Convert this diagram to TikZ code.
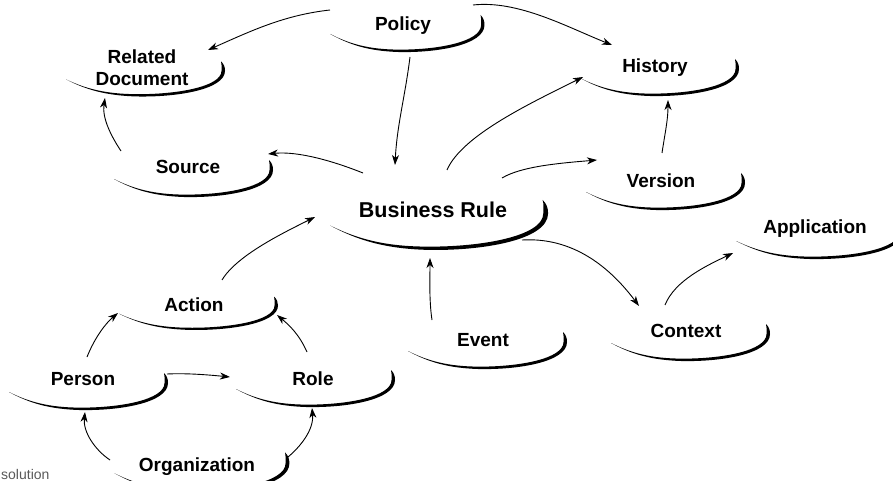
\documentclass[tikz,border=0pt]{standalone}
\usepackage{fontspec}
\setmainfont{Liberation Sans}
\usetikzlibrary{arrows.meta,calc}
\tikzset{
 lbl/.style={font=\fontsize{19}{22}\selectfont\bfseries, inner sep=0pt, text height=14pt, text depth=0pt},
 arr/.style={line width=0.9pt, -{Stealth[length=10pt,width=7pt,inset=3pt]}},
}
\newcommand\swoosh[4]{%
 \begin{scope}[shift={(#1.center)}, shift={(#2)}, xscale=#3, yscale=#4]
 \fill (-75,13) .. controls (-55,24) and (-35,30) .. (-5,31)
   .. controls (35,32) and (84,24) .. (84,4)
   .. controls (84,0) and (83,-3) .. (80,-6)
   .. controls (81,-3) and (80.5,0) .. (80.5,4)
   .. controls (80.5,21) and (35,29) .. (-5,28.6)
   .. controls (-35,28.4) and (-55,23) .. cycle;
 \end{scope}}
\begin{document}
\begin{tikzpicture}[x=1pt,y=-1pt]
\useasboundingbox (0,0) rectangle (893,481);
\clip (0,0) rectangle (893,481);
% nodes
\node[lbl] (Po) at (403,24) {Policy};
\node[font=\fontsize{19}{22}\selectfont\bfseries, align=center, inner sep=0pt] (RD) at (142,68) {Related\\Document};
\node[lbl] (Hi) at (655,66) {History};
\node[lbl] (So) at (188,166) {Source};
\node[lbl, font=\fontsize{21.5}{24}\selectfont\bfseries, text height=15.5pt] (BR) at (433,210) {Business Rule};
\node[lbl] (Ve) at (661,180) {Version};
\node[lbl] (Ap) at (815,226) {Application};
\node[lbl] (Ac) at (194,304) {Action};
\node[lbl] (Pe) at (83,378) {Person};
\node[lbl] (Ro) at (313,378) {Role};
\node[lbl] (Or) at (197,464) {Organization};
\node[lbl] (Ev) at (483,339) {Event};
\node[lbl] (Co) at (686,330) {Context};
\node[font=\fontsize{14}{14}\selectfont, text=black!65, anchor=base west, inner sep=0pt] (sol) at (1,479.5) {solution};
% swooshes
\swoosh{Po}{0,-3}{0.97}{1}
\swoosh{RD}{-1,-1}{1}{0.95}
\swoosh{Hi}{0,-1}{1}{1}
\swoosh{So}{1,0}{1}{1}
\swoosh{BR}{0,-2}{1.37}{1.35}
\swoosh{Ve}{0,-1}{1}{1}
\swoosh{Ap}{0,2}{1.05}{1}
\swoosh{Ac}{0,-2}{1}{0.9}
\swoosh{Pe}{1,1}{1}{1}
\swoosh{Ro}{-2,-2}{1}{1}
\swoosh{Or}{0,-5}{1.1}{1.1}
\swoosh{Ev}{0,-1}{1}{1}
\swoosh{Co}{0,0}{1}{1}
% connectors
\draw[arr] ($(Po)+(-73,-14)$) .. controls +(-45,5) and +(45,-20) .. ($(RD)+(66,-18)$);
\draw[arr] ($(Po)+(70,-19)$) .. controls +(45,-5) and +(-45,-18) .. ($(Hi)+(-43,-21)$);
\draw[arr] ($(Po)+(7,33)$) .. controls +(-5,40) and +(2,-40) .. ($(BR)+(-38,-45)$);
\draw[arr] ($(So)+(-67,-15)$) .. controls +(-10,-15) and +(-3,20) .. ($(RD)+(-37,30)$);
\draw[arr] ($(BR)+(-70,-37)$) .. controls +(-30,-12) and +(30,-3) .. ($(So)+(80,-12)$);
\draw[arr] ($(BR)+(14,-40)$) .. controls +(15,-35) and +(-50,25) .. ($(Hi)+(-72,11)$);
\draw[arr] ($(BR)+(69,-32)$) .. controls +(20,-12) and +(-35,3) .. ($(Ve)+(-64,-20)$);
\draw[arr] ($(Ve)+(1,-27)$) .. controls +(3,-20) and +(0,20) .. ($(Hi)+(13,34)$);
\draw[arr] ($(BR)+(89,30)$) .. controls +(50,-3) and +(-30,-40) .. ($(Co)+(-47,-24)$);
\draw[arr] ($(Co)+(-21,-25)$) .. controls +(10,-25) and +(-25,12) .. ($(Ap)+(-82,27)$);
\draw[arr] ($(Ev)+(-51,-19)$) .. controls +(-3,-20) and +(0,20) .. ($(BR)+(-3,48)$);
\draw[arr] ($(Ac)+(28,-24)$) .. controls +(15,-25) and +(-30,15) .. ($(BR)+(-118,7)$);
\draw[arr] ($(Pe)+(4,-21)$) .. controls +(8,-20) and +(-12,10) .. ($(Ac)+(-76,9)$);
\draw[arr] ($(Ro)+(-6,-26)$) .. controls +(-8,-18) and +(12,10) .. ($(Ac)+(83,11)$);
\draw[arr] ($(Pe)+(84,-4)$) .. controls +(20,-1) and +(-20,-2) .. ($(Ro)+(-83,-1)$);
\draw[arr] ($(Or)+(-87,-4)$) .. controls +(-15,-10) and +(-2,20) .. ($(Pe)+(2,34)$);
\draw[arr] ($(Or)+(91,-7)$) .. controls +(12,-10) and +(2,22) .. ($(Ro)+(-1,30)$);
\end{tikzpicture}
\end{document}
